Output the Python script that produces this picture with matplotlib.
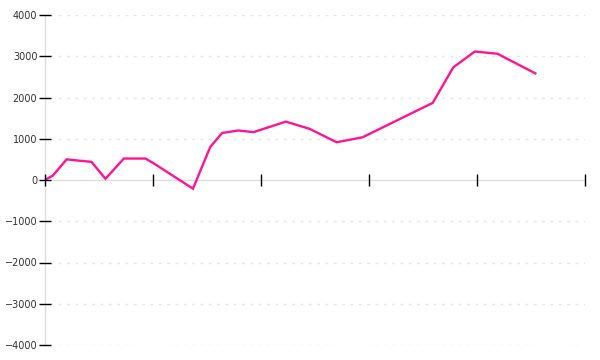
import matplotlib
matplotlib.use("Agg")
import matplotlib.pyplot as plt

x_vals = [0, 0.74, 2.0, 3.1, 4.3, 5.6, 7.3, 9.3, 10.0, 13.7, 15.3, 16.4, 17.9, 19.3,
          22.3, 24.5, 27.0, 29.4, 35.9, 37.8, 39.8, 41.9, 45.4]
y_vals = [0, 110, 500, 470, 440, 30, 520, 520, 415, -210, 800, 1140, 1200, 1160,
          1415, 1240, 915, 1035, 1870, 2730, 3115, 3060, 2585]
x_ticks = [0, 10, 20, 30, 40, 50]
y_ticks = [-4000, -3000, -2000, -1000, 0, 1000, 2000, 3000, 4000]

fig = plt.figure(figsize=(6, 3.6), dpi=100)
ax = fig.add_axes([45/600, 15/360, 540/600, 330/360])

ax.plot(x_vals, y_vals, color="#ff1493", lw=1.7, solid_joinstyle="miter", zorder=3)

ax.set_xlim(0, 50)
ax.set_ylim(-4000, 4000)
ax.set_xticks(x_ticks)
ax.set_xticklabels([])
ax.set_yticks(y_ticks)
ax.set_yticklabels([str(v).replace("-", "\u2212") for v in y_ticks])

for s in ["top", "right"]:
    ax.spines[s].set_visible(False)
ax.spines["bottom"].set_position(("data", 0))
for s in ["bottom", "left"]:
    ax.spines[s].set_color("#dddddd")
    ax.spines[s].set_linewidth(1.0)
    ax.spines[s].set_zorder(0.5)
ax.xaxis.set_zorder(4)
ax.yaxis.set_zorder(4)

ax.tick_params(axis="x", direction="inout", length=8, width=1, color="black")
ax.tick_params(axis="y", direction="inout", length=9, width=1, color="black",
               labelsize=7, labelcolor="#333333", pad=1)

for v in y_ticks:
    if v != 0:
        ax.axhline(v, xmin=0.01, xmax=1.0, color="#e6e6e6", lw=1, ls=(0, (2, 4)), zorder=1)

fig.savefig("out.png", dpi=100)
